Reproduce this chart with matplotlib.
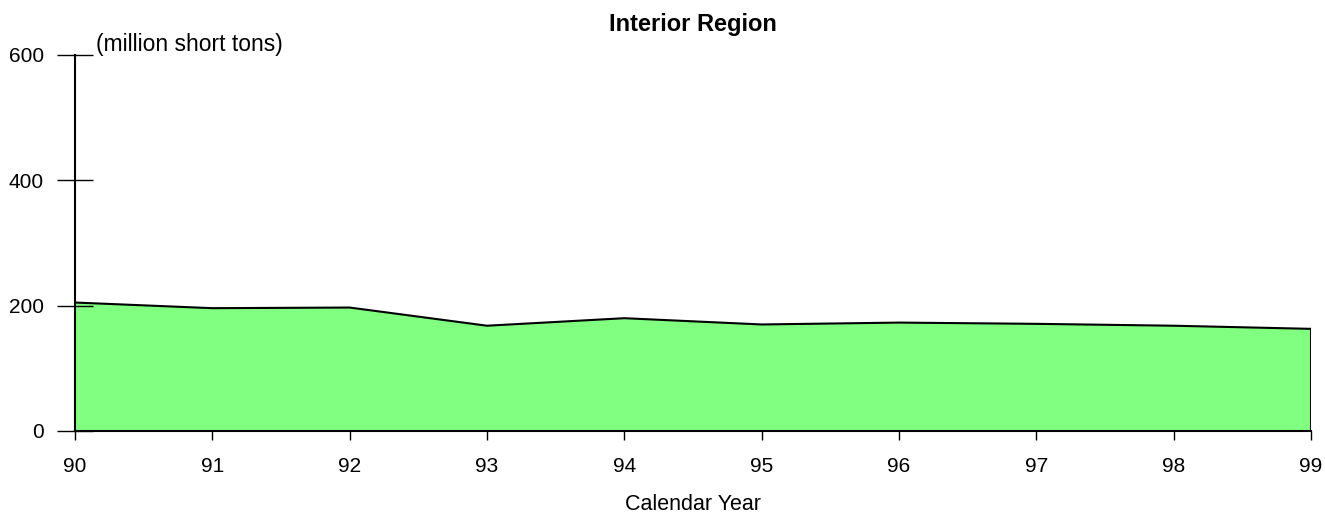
import matplotlib
matplotlib.use("Agg")
import matplotlib.pyplot as plt

years = ["90", "91", "92", "93", "94", "95", "96", "97", "98", "99"]
production = [205, 196, 197, 168, 180, 170, 173, 171, 168, 163]
yticks = [0, 200, 400, 600]

plt.rcParams['font.family'] = ['Liberation Sans', 'DejaVu Sans']
fig = plt.figure(figsize=(13.25, 5.15), dpi=100)
ax = fig.add_axes([75/1325, 1 - 431/515, (1311-75)/1325, (431-55)/515])

x = list(range(len(years)))
ax.fill_between(x, production, 0, facecolor='#80FF80', edgecolor='none', zorder=1)
ax.plot(x, production, color='black', lw=1.5, zorder=2)
ax.plot([x[-1], x[-1]], [0, production[-1]], color='black', lw=1.5, zorder=2)

ax.set_xlim(0, len(years) - 1)
ax.set_ylim(0, 600)
ax.set_xticks(x)
ax.set_xticklabels(years)
ax.set_yticks(yticks)
ax.set_yticklabels([str(v) for v in yticks])

for s in ['top', 'right']:
    ax.spines[s].set_visible(False)
ax.spines['left'].set_linewidth(1.5)
ax.spines['bottom'].set_linewidth(1.5)
ax.spines['left'].set_zorder(3)

ax.tick_params(axis='y', direction='inout', length=26, width=1, labelsize=15, pad=9.5)
ax.tick_params(axis='x', direction='out', length=6.5, width=1, labelsize=15, pad=12)

fig.text(693/1325, 1 - 504/515, 'Calendar Year', ha='center', va='center', fontsize=15.5)
fig.text(693/1325, 1 - 25/515, 'Interior Region', ha='center', va='center',
         fontsize=17, fontweight='bold')
fig.text(96/1325, 1 - 44/515, '(million short tons)', ha='left', va='center', fontsize=16.5)

fig.savefig('out.png', dpi=100)
